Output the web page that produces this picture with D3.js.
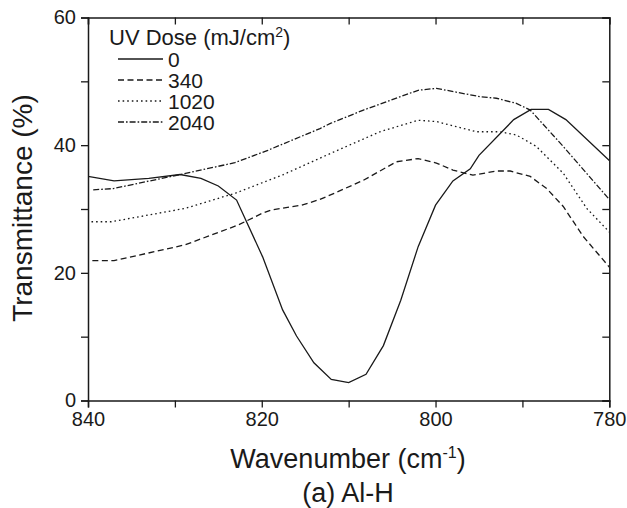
<!DOCTYPE html>
<html>
<head>
<meta charset="utf-8">
<script src="https://cdn.jsdelivr.net/npm/d3@7"></script>
<style>
  html, body { margin: 0; padding: 0; background: #fff; }
  svg { display: block; font-family: "Liberation Sans", Arial, Helvetica, sans-serif; }
</style>
</head>
<body>
<svg id="chart" width="627" height="508"></svg>
<script>
// Al-H band transmittance spectra for several UV doses
const doses = ["0", "340", "1020", "2040"];

const wn0 = [840, 837, 833, 829.4, 827, 825, 822.9, 819.9, 817.6, 816, 814, 812, 810, 808, 806, 804, 802, 800, 798, 796, 795, 791, 789, 787, 785, 780];
const t0  = [35.1, 34.4, 34.8, 35.4, 34.8, 33.6, 31.4, 22.5, 14.2, 10.1, 5.9, 3.3, 2.8, 4.1, 8.6, 15.7, 24.1, 30.6, 34.4, 36.3, 38.4, 44.0, 45.6, 45.6, 44.0, 37.6];

const wn340 = [839.5, 837, 828.8, 822.7, 820, 818.9, 815.4, 813.3, 811.6, 808.3, 804.5, 802, 799.9, 798, 795.7, 793, 791.4, 789.1, 787.2, 785.3, 783, 780];
const t340  = [21.9, 21.9, 24.4, 27.5, 29.3, 29.85, 30.6, 31.5, 32.5, 34.5, 37.4, 37.9, 37.2, 36.1, 35.3, 35.95, 35.95, 35.1, 33.2, 30.4, 25.7, 20.9];

const wn1020 = [839.6, 837.3, 828.8, 823, 817.5, 811.6, 806.4, 802, 799.9, 795.3, 792.6, 790.7, 788.4, 785.3, 782.6, 780];
const t1020  = [28.0, 28.0, 30.1, 32.5, 35.4, 39.0, 42.1, 43.9, 43.7, 42.1, 42.1, 41.6, 39.8, 35.6, 30.1, 26.4];

const wn2040 = [839.4, 837.1, 829.4, 823.1, 819.3, 813.3, 812.1, 808.3, 802, 799.9, 794.9, 793, 790.7, 789.1, 785.3, 780];
const t2040  = [33.0, 33.2, 35.4, 37.25, 39.2, 42.6, 43.4, 45.5, 48.6, 48.9, 47.6, 47.35, 46.55, 45.5, 39.8, 31.5];

const xMajor = [840, 820, 800, 780];
const xMinor = [830, 810, 790];
const yMajor = [0, 20, 40, 60];
const yMinor = [10, 30, 50];

const seriesWn = [wn0, wn340, wn1020, wn2040];
const seriesT  = [t0, t340, t1020, t2040];
const dashes   = [null, "6,3.5", "1.6,3", "6,2,1.6,2"];

const svg = d3.select("#chart");
const plotL = 88, plotR = 609.3, plotT = 17.5, plotB = 400.5;

const x = d3.scaleLinear().domain([840, 780]).range([plotL, plotR]);
const y = d3.scaleLinear().domain([0, 60]).range([plotB, plotT]);

const ink = "#1a1a1a";
const tickLen = 7;
const allX = xMajor.concat(xMinor);
const allY = yMajor.concat(yMinor);

// axes: outward ticks on left/bottom, inward on right/top
const axB = d3.axisBottom(x).tickValues(allX).tickSize(tickLen).tickPadding(4)
  .tickFormat(d => xMajor.includes(d) ? d3.format("d")(d) : "");
const axL = d3.axisLeft(y).tickValues(allY).tickSize(tickLen).tickPadding(5)
  .tickFormat(d => yMajor.includes(d) ? d3.format("d")(d) : "");
const axT = d3.axisTop(x).tickValues(allX).tickSize(-tickLen).tickFormat("");
const axR = d3.axisRight(y).tickValues(allY).tickSize(-tickLen).tickFormat("");

function style(g) {
  g.selectAll(".domain").attr("stroke", ink).attr("stroke-width", 1.5);
  g.selectAll(".tick line").attr("stroke", ink).attr("stroke-width", 1.3);
  g.selectAll(".tick text").attr("fill", ink).attr("font-size", 20)
    .attr("font-family", '"Liberation Sans", Arial, sans-serif');
}

svg.append("g").attr("transform", `translate(0,${plotB})`).call(axB).call(style);
svg.append("g").attr("transform", `translate(${plotL},0)`).call(axL).call(style);
svg.append("g").attr("transform", `translate(0,${plotT})`).call(axT).call(style);
svg.append("g").attr("transform", `translate(${plotR},0)`).call(axR).call(style);

// spectra
svg.append("clipPath").attr("id", "plot-clip")
  .append("rect").attr("x", plotL).attr("y", plotT).attr("width", plotR - plotL).attr("height", plotB - plotT);

const line = d3.line().x(d => x(d[0])).y(d => y(d[1]));
seriesWn.forEach((wn, i) => {
  const pts = wn.map((w, k) => [w, seriesT[i][k]]);
  svg.append("path")
    .attr("d", line(pts))
    .attr("fill", "none")
    .attr("stroke", ink)
    .attr("stroke-width", 1.3)
    .attr("stroke-dasharray", dashes[i])
    .attr("clip-path", "url(#plot-clip)");
});

// legend
const lg = svg.append("g").attr("fill", ink);
const lt = lg.append("text").attr("x", 109).attr("y", 44.5).attr("font-size", 22);
lt.append("tspan").text("UV Dose (mJ/cm");
lt.append("tspan").attr("font-size", 14).attr("dy", -8).text("2");
lt.append("tspan").attr("dy", 8).text(")");

doses.forEach((d, i) => {
  const cy = 59 + i * 21;
  lg.append("line").attr("x1", 118).attr("x2", 163).attr("y1", cy).attr("y2", cy)
    .attr("stroke", ink).attr("stroke-width", 1.3).attr("stroke-dasharray", dashes[i]);
  lg.append("text").attr("x", 168).attr("y", cy + 7.5).attr("font-size", 21).text(d);
});

// axis titles
const xt = svg.append("text").attr("x", 348).attr("y", 468).attr("text-anchor", "middle")
  .attr("font-size", 27).attr("fill", ink);
xt.append("tspan").text("Wavenumber (cm");
xt.append("tspan").attr("font-size", 16).attr("dy", -10).text("-1");
xt.append("tspan").attr("dy", 10).text(")");

svg.append("text").attr("x", 348).attr("y", 502).attr("text-anchor", "middle")
  .attr("font-size", 27).attr("fill", ink).text("(a) Al-H");

svg.append("text").attr("transform", "translate(32,208) rotate(-90)")
  .attr("text-anchor", "middle").attr("font-size", 28).attr("fill", ink)
  .text("Transmittance (%)");
</script>
</body>
</html>
